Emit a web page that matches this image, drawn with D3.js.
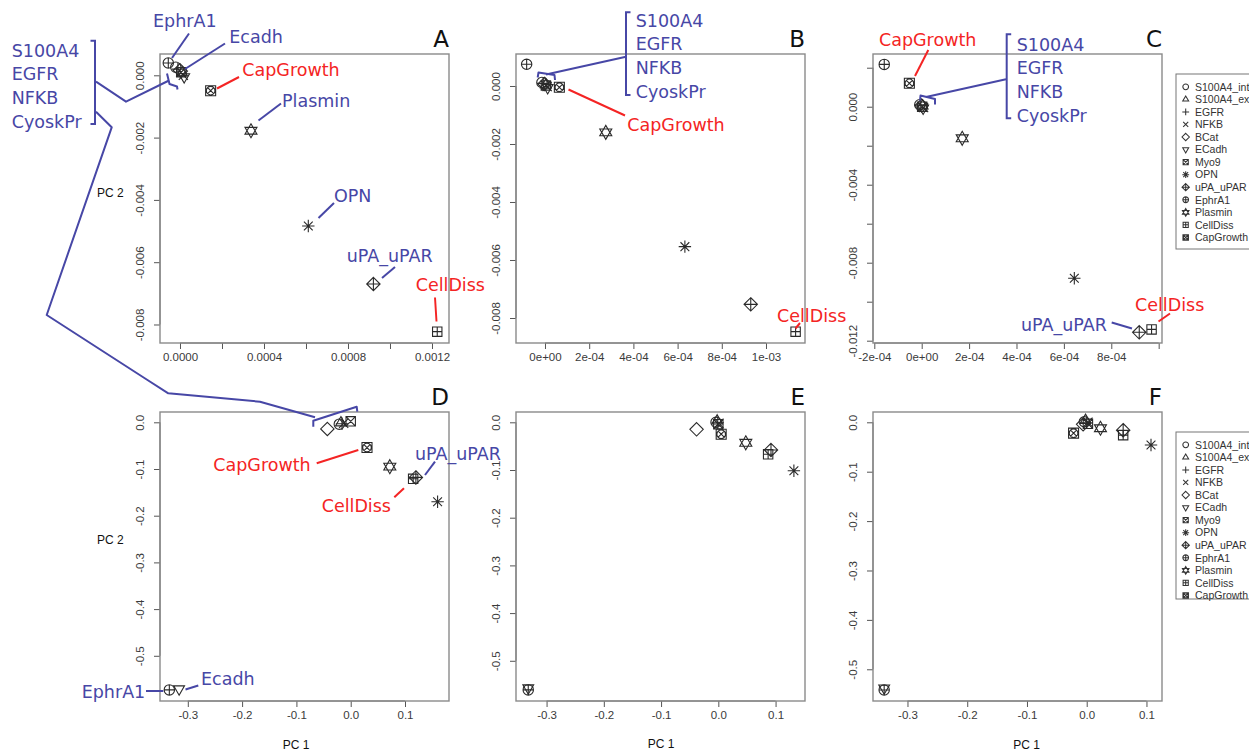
<!DOCTYPE html>
<html>
<head>
<meta charset="utf-8">
<script src="https://cdn.jsdelivr.net/npm/d3@7"></script>
<style>
  body { margin: 0; background: #fff; }
  svg { display: block; }
</style>
</head>
<body>
<div id="chart"></div>
<script>
// variable names (legend order = R pch 1..13)
var variables = ["S100A4_int", "S100A4_ext", "EGFR", "NFKB", "BCat", "ECadh", "Myo9",
                 "OPN", "uPA_uPAR", "EphrA1", "Plasmin", "CellDiss", "CapGrowth"];

// PC1 / PC2 loadings per panel, same order as variables
var pcA1 = [-0.000020, 0.000010, -0.000010, 0.000016, 0.000000, 0.000020, 0.000006, 0.000611, 0.000921, -0.0000557, 0.000338, 0.001225, 0.000146];
var pcA2 = [0.00026, 0.00008, 0.00020, 0.00000, 0.00016, -0.00005, 0.00010, -0.00484, -0.00670, 0.000395, -0.00178, -0.00823, -0.000494];

var pcB1 = [-0.000014, 0.000004, -0.000008, 0.000010, -0.000002, 0.000012, 0.000004, 0.000633, 0.000931, -0.000083, 0.000275, 0.001134, 0.000065];
var pcB2 = [0.00012, 0.00004, 0.00009, -0.00002, 0.00007, -0.00006, 0.00002, -0.00554, -0.00753, 0.000748, -0.00160, -0.00847, -0.000045];

var pcC1 = [-0.000008, 0.000004, -0.000004, 0.000008, 0.000000, 0.000006, 0.000002, 0.000644, 0.000918, -0.000158, 0.000171, 0.000970, -0.000052];
var pcC2 = [0.00010, 0.00004, 0.00008, -0.00004, 0.00006, -0.00008, 0.00000, -0.0088, -0.01157, 0.00217, -0.00162, -0.01142, 0.00120];

var pcD1 = [-0.021, -0.018, -0.016, -0.013, -0.043, -0.316, 0.000, 0.160, 0.120, -0.334, 0.072, 0.115, 0.030];
var pcD2 = [-0.004, -0.001, -0.003, -0.002, -0.0143, -0.571, 0.002, -0.170, -0.118, -0.573, -0.095, -0.121, -0.054];

var pcE1 = [-0.004, -0.002, -0.001, 0.001, -0.038, -0.332, 0.000, 0.132, 0.092, -0.332, 0.048, 0.087, 0.005];
var pcE2 = [0.000, 0.003, -0.001, -0.002, -0.0147, -0.557, -0.004, -0.1015, -0.058, -0.561, -0.043, -0.067, -0.025];

var pcF1 = [-0.004, -0.002, 0.000, 0.002, -0.006, -0.339, 0.002, 0.1076, 0.061, -0.339, 0.023, 0.061, -0.022];
var pcF2 = [0.001, 0.004, -0.001, 0.000, -0.004, -0.538, -0.003, -0.046, -0.016, -0.542, -0.012, -0.026, -0.022];

// axis ticks and labels
var aXTicks = [0, 0.0002, 0.0004, 0.0006, 0.0008, 0.0010, 0.0012];
var aXLabels = ["0.0000", "", "0.0004", "", "0.0008", "", "0.0012"];
var abYTicks = [0, -0.002, -0.004, -0.006, -0.008];
var abYLabels = ["0.000", "-0.002", "-0.004", "-0.006", "-0.008"];
var bXTicks = [0, 0.0002, 0.0004, 0.0006, 0.0008, 0.0010];
var bXLabels = ["0e+00", "2e-04", "4e-04", "6e-04", "8e-04", "1e-03"];
var cXTicks = [-0.0002, 0, 0.0002, 0.0004, 0.0006, 0.0008, 0.0010];
var cXLabels = ["-2e-04", "0e+00", "2e-04", "4e-04", "6e-04", "8e-04", ""];
var cYTicks = [0.002, 0, -0.002, -0.004, -0.006, -0.008, -0.010, -0.012];
var cYLabels = ["", "0.000", "", "-0.004", "", "-0.008", "", "-0.012"];
var defXTicks = [-0.3, -0.2, -0.1, 0, 0.1];
var defXLabels = ["-0.3", "-0.2", "-0.1", "0.0", "0.1"];
var defYTicks = [0, -0.1, -0.2, -0.3, -0.4, -0.5];
var defYLabels = ["0.0", "-0.1", "-0.2", "-0.3", "-0.4", "-0.5"];

var blue = "#4747a6", red = "#f42424", ink = "#3a3a3a";

var width = 1249, height = 751;
var cols = [160, 516, 873], rows = [54, 412], size = 289;

var panels = [
  {id: "A", col: 0, row: 0, pc1: pcA1, pc2: pcA2, xDom: [-0.0000952, 0.001281], yDom: [-0.008594, 0.000684],
   xTicks: aXTicks, xLabels: aXLabels, yTicks: abYTicks, yLabels: abYLabels},
  {id: "B", col: 1, row: 0, pc1: pcB1, pc2: pcB2, xDom: [-0.0001312, 0.0011765], yDom: [-0.008862, 0.001103],
   xTicks: bXTicks, xLabels: bXLabels, yTicks: abYTicks, yLabels: abYLabels},
  {id: "C", col: 2, row: 0, pc1: pcC1, pc2: pcC2, xDom: [-0.0002055, 0.001014], yDom: [-0.012118, 0.002703],
   xTicks: cXTicks, xLabels: cXLabels, yTicks: cYTicks, yLabels: cYLabels},
  {id: "D", col: 0, row: 1, pc1: pcD1, pc2: pcD2, xDom: [-0.3512, 0.1810], yDom: [-0.5968, 0.02206],
   xTicks: defXTicks, xLabels: defXLabels, yTicks: defYTicks, yLabels: defYLabels},
  {id: "E", col: 1, row: 1, pc1: pcE1, pc2: pcE2, xDom: [-0.3534, 0.1514], yDom: [-0.5843, 0.0216],
   xTicks: defXTicks, xLabels: defXLabels, yTicks: defYTicks, yLabels: defYLabels},
  {id: "F", col: 2, row: 1, pc1: pcF1, pc2: pcF2, xDom: [-0.3577, 0.1260], yDom: [-0.5642, 0.02085],
   xTicks: defXTicks, xLabels: defXLabels, yTicks: defYTicks, yLabels: defYLabels}
];

// R-like plotting symbols, pch 1..13 (CapGrowth drawn boxed like in the figure)
var circ = function(r) { return "M" + r + ",0A" + r + "," + r + " 0 1,1 " + (-r) + ",0A" + r + "," + r + " 0 1,1 " + r + ",0"; };
var pchPaths = [
  circ(5.2),
  "M0,-6.2L5.4,3.1L-5.4,3.1Z",
  "M-6.2,0H6.2M0,-6.2V6.2",
  "M-4.6,-4.6L4.6,4.6M-4.6,4.6L4.6,-4.6",
  "M0,-6.7L6.7,0L0,6.7L-6.7,0Z",
  "M0,6.2L5.4,-3.1L-5.4,-3.1Z",
  "M-4.7,-4.7H4.7V4.7H-4.7ZM-4.7,-4.7L4.7,4.7M-4.7,4.7L4.7,-4.7",
  "M-6.2,0H6.2M0,-6.2V6.2M-4.4,-4.4L4.4,4.4M-4.4,4.4L4.4,-4.4",
  "M0,-6.7L6.7,0L0,6.7L-6.7,0ZM-6.7,0H6.7M0,-6.7V6.7",
  circ(5.2) + "M-5.2,0H5.2M0,-5.2V5.2",
  "M0,-7L6,3.4L-6,3.4ZM0,7L6,-3.4L-6,-3.4Z",
  "M-4.7,-4.7H4.7V4.7H-4.7ZM-4.7,0H4.7M0,-4.7V4.7",
  "M-5,-5H5V5H-5Z" + circ(4.3) + "M-3,-3L3,3M-3,3L3,-3"
];

var svg = d3.select("#chart").append("svg")
    .attr("width", width)
    .attr("height", height)
    .style("background", "#fff");

panels.forEach(function(p) {
  var x0 = cols[p.col], y0 = rows[p.row];
  var x = d3.scaleLinear().domain(p.xDom).range([x0, x0 + size]);
  var y = d3.scaleLinear().domain(p.yDom).range([y0 + size, y0]);

  // bottom axis
  var gx = svg.append("g")
      .attr("transform", "translate(0," + (y0 + size) + ")")
      .call(d3.axisBottom(x).tickValues(p.xTicks).tickSize(6).tickPadding(4)
        .tickFormat(function(d, i) { return p.xLabels[i]; }));
  gx.select(".domain").remove();
  gx.append("line")
      .attr("x1", x(p.xTicks[0])).attr("x2", x(p.xTicks[p.xTicks.length - 1]))
      .attr("stroke", "#555");
  gx.selectAll(".tick line").attr("stroke", "#555");
  gx.selectAll(".tick text")
      .attr("fill", ink)
      .style("font-family", "Liberation Sans, Arial, sans-serif")
      .style("font-size", "11.5px");

  // left axis, labels rotated like R
  var gy = svg.append("g")
      .attr("transform", "translate(" + x0 + ",0)")
      .call(d3.axisLeft(y).tickValues(p.yTicks).tickSize(6)
        .tickFormat(function(d, i) { return p.yLabels[i]; }));
  gy.select(".domain").remove();
  gy.append("line")
      .attr("y1", y(p.yTicks[0])).attr("y2", y(p.yTicks[p.yTicks.length - 1]))
      .attr("stroke", "#555");
  gy.selectAll(".tick line").attr("stroke", "#555");
  gy.selectAll(".tick text")
      .attr("transform", "rotate(-90)")
      .attr("x", 0).attr("y", -16).attr("dy", null)
      .attr("text-anchor", "middle")
      .attr("fill", ink)
      .style("font-family", "Liberation Sans, Arial, sans-serif")
      .style("font-size", "11.5px");

  // frame
  svg.append("rect")
      .attr("x", x0).attr("y", y0).attr("width", size).attr("height", size)
      .attr("fill", "none").attr("stroke", "#8a8a8a").attr("stroke-width", 1.4);

  // points
  svg.append("g").selectAll("path")
    .data(variables)
    .join("path")
      .attr("transform", function(d, i) { return "translate(" + x(p.pc1[i]) + "," + y(p.pc2[i]) + ")"; })
      .attr("d", function(d, i) { return pchPaths[i]; })
      .attr("fill", "none")
      .attr("stroke", "#2a2a2a")
      .attr("stroke-width", 1.1);

  // panel letter
  svg.append("text")
      .attr("x", x0 + size).attr("y", y0 - 7.5)
      .attr("text-anchor", "end")
      .style("font-family", "DejaVu Sans, sans-serif")
      .style("font-size", "23px")
      .attr("fill", "#111")
      .text(p.id);
});

// axis titles
var axisTitles = [
  {t: "PC 2", x: 110.3, y: 197},
  {t: "PC 2", x: 110.3, y: 544},
  {t: "PC 1", x: 296, y: 749},
  {t: "PC 1", x: 661, y: 748},
  {t: "PC 1", x: 1026.7, y: 749}
];
svg.selectAll(".axtitle").data(axisTitles).join("text")
    .attr("class", "axtitle")
    .attr("x", function(d) { return d.x; }).attr("y", function(d) { return d.y; })
    .attr("text-anchor", "middle")
    .attr("fill", "#111")
    .style("font-family", "Liberation Sans, Arial, sans-serif")
    .style("font-size", "12px")
    .text(function(d) { return d.t; });

// legends (run off the page edge like the original)
[{top: 74, bottom: 249}, {top: 432, bottom: 599}].forEach(function(L) {
  svg.append("rect")
      .attr("x", 1176).attr("y", L.top).attr("width", 120).attr("height", L.bottom - L.top)
      .attr("fill", "#fff").attr("stroke", "#777").attr("stroke-width", 1);
  var first = L.top + 12.8;
  var g = svg.append("g");
  g.selectAll("path").data(variables).join("path")
      .attr("transform", function(d, i) { return "translate(1185.7," + (first + i * 12.55) + ") scale(0.55)"; })
      .attr("d", function(d, i) { return pchPaths[i]; })
      .attr("fill", "none").attr("stroke", "#333").attr("stroke-width", 1.9);
  g.selectAll("text").data(variables).join("text")
      .attr("x", 1195).attr("y", function(d, i) { return first + i * 12.55 + 3.8; })
      .attr("fill", "#333")
      .style("font-family", "Liberation Sans, Arial, sans-serif")
      .style("font-size", "10.5px")
      .text(function(d) { return d; });
});

// hand placed annotations (page px)
var notes = [
  // panel A
  {t: "EphrA1", c: blue, x: 153, y: 27.3, line: [[189, 33.5], [172, 58]]},
  {t: "Ecadh", c: blue, x: 229.3, y: 42.7, line: [[225, 43.5], [185, 69]]},
  {t: "CapGrowth", c: red, x: 242.3, y: 76, line: [[239, 77], [217, 88.5]]},
  {t: "Plasmin", c: blue, x: 282, y: 107.3, line: [[281, 103.5], [258.5, 120.5]]},
  {t: "OPN", c: blue, x: 334, y: 202.3, line: [[334, 203], [318.5, 218]]},
  {t: "uPA_uPAR", c: blue, x: 346.7, y: 261.7, line: [[395, 267], [382, 278]]},
  {t: "CellDiss", c: red, x: 415.7, y: 291, line: [[435, 297.5], [436.5, 321.5]]},
  // panel B
  {t: "CapGrowth", c: red, x: 627.3, y: 130.7, line: [[625, 115.5], [568.5, 89.5]]},
  {t: "CellDiss", c: red, x: 777, y: 321.7, line: [[800, 323], [795.5, 328.5]]},
  // panel C
  {t: "CapGrowth", c: red, x: 879, y: 45.7, line: [[928.3, 50], [915, 76]]},
  {t: "uPA_uPAR", c: blue, x: 1021, y: 331, line: [[1111.7, 322.5], [1132, 328.5]]},
  {t: "CellDiss", c: red, x: 1135, y: 310.7, line: [[1170, 313.5], [1158.5, 321.5]]},
  // panel D
  {t: "CapGrowth", c: red, x: 213.3, y: 470.7, line: [[316.7, 463.3], [358.3, 450]]},
  {t: "uPA_uPAR", c: blue, x: 415, y: 460, line: [[435, 461.7], [425, 475]]},
  {t: "CellDiss", c: red, x: 321.7, y: 512.3, line: [[394.3, 497.3], [404, 488.3]]},
  {t: "EphrA1", c: blue, x: 81.7, y: 698.3, line: [[146, 691], [163.3, 691]]},
  {t: "Ecadh", c: blue, x: 201, y: 685, line: [[198.3, 685.5], [185.5, 689.5]]}
];

// bracketed groups of names (dir: side the names sit on)
var groupNames = ["S100A4", "EGFR", "NFKB", "CyoskPr"];
var groups = [
  {tx: 11.7, ty: 56.7, bx: 95, top: 40.7, bot: 124, dir: -1},
  {tx: 635.7, ty: 26.7, bx: 626, top: 12.3, bot: 95, dir: 1},
  {tx: 1016.7, ty: 50.7, bx: 1006.7, top: 34.3, bot: 118.3, dir: 1}
];

// connector polylines
var connectors = [
  [[96, 81.7], [126, 101.7], [169, 80.5]],
  [[167, 73.5], [169.5, 84], [177, 86.5], [177.5, 89.5]],
  [[96, 111.7], [111.7, 127.3], [46.7, 315], [146.7, 379.5], [168.3, 393.3], [260, 401.7], [315, 417.3]],
  [[313.3, 426.7], [313.3, 420.7], [356.7, 406.7], [357.3, 411.7]],
  [[626, 56.7], [546, 74.5]],
  [[537.7, 77.5], [538.5, 72.5], [554.5, 75], [555, 80]],
  [[1006, 79.3], [926, 97]],
  [[920, 100.5], [920.5, 95.5], [935, 99], [935, 104.5]]
];

var lineGen = d3.line();
var ann = svg.append("g");

connectors.forEach(function(pts) {
  ann.append("path").attr("d", lineGen(pts))
      .attr("fill", "none").attr("stroke", blue).attr("stroke-width", 2)
      .attr("stroke-linejoin", "round");
});

groups.forEach(function(gr) {
  ann.append("path")
      .attr("d", lineGen([[gr.bx + gr.dir * 4.5, gr.top], [gr.bx, gr.top], [gr.bx, gr.bot], [gr.bx + gr.dir * 4.5, gr.bot]]))
      .attr("fill", "none").attr("stroke", blue).attr("stroke-width", 2);
  groupNames.forEach(function(n, i) {
    ann.append("text")
        .attr("x", gr.tx).attr("y", gr.ty + i * 23.6)
        .attr("fill", blue)
        .style("font-family", "DejaVu Sans, sans-serif")
        .style("font-size", "17.5px")
        .text(n);
  });
});

notes.forEach(function(n) {
  ann.append("path").attr("d", lineGen(n.line))
      .attr("fill", "none").attr("stroke", n.c).attr("stroke-width", 2);
  ann.append("text")
      .attr("x", n.x).attr("y", n.y)
      .attr("fill", n.c)
      .style("font-family", "DejaVu Sans, sans-serif")
      .style("font-size", "17.5px")
      .text(n.t);
});
</script>
</body>
</html>
